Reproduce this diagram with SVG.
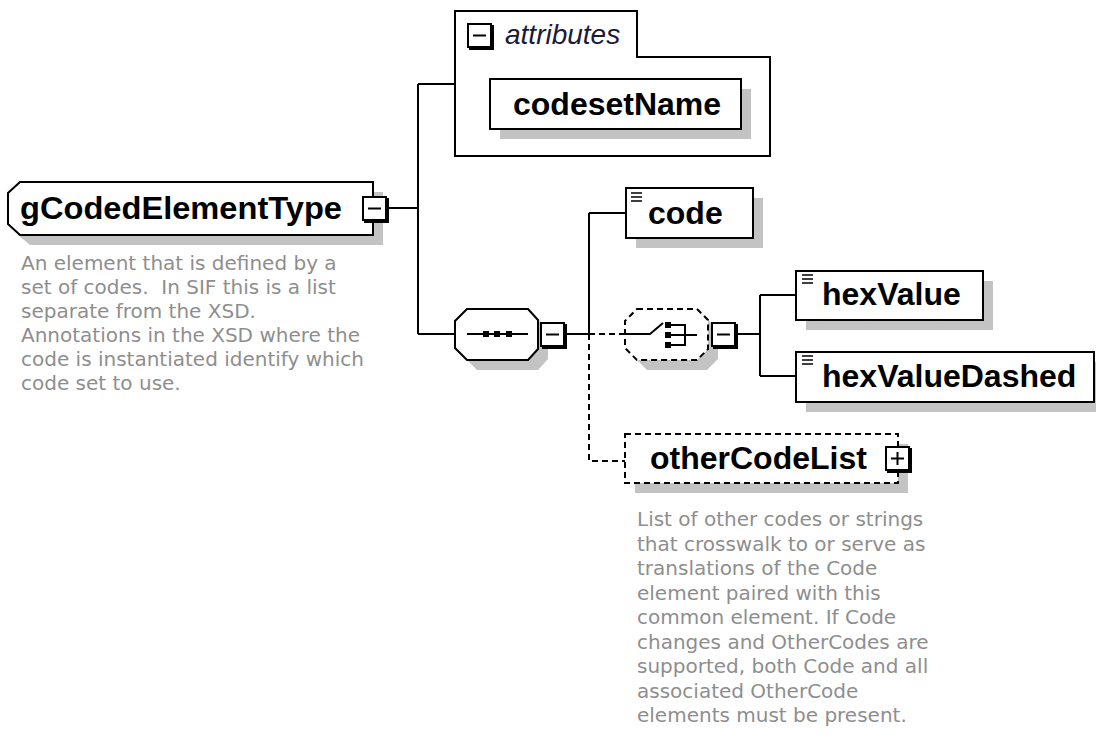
<svg xmlns="http://www.w3.org/2000/svg" xmlns:xlink="http://www.w3.org/1999/xlink" width="1096" height="742" viewBox="0 0 1096 742">
<style>
.box{fill:#fff;stroke:#000;stroke-width:2}
.dbox{fill:#fff;stroke:#000;stroke-width:2;stroke-dasharray:6 4}
.sh{fill:#c3c3c3}
.ln{fill:none;stroke:#000;stroke-width:2}
.dl{fill:none;stroke:#000;stroke-width:2;stroke-dasharray:6 4}
.name{font-family:"Liberation Sans",Arial,sans-serif;font-weight:bold;font-size:32px;fill:#000}
.desc{font-family:"DejaVu Sans",Verdana,sans-serif;font-size:20px;fill:#8e8e8e;white-space:pre}
.attr{font-family:"Liberation Sans",Arial,sans-serif;font-style:italic;font-size:28px;fill:#1a1a3a}
</style>
<defs>
<g id="btnMinus">
<rect x="1" y="1" width="23" height="23" fill="#fff" stroke="#000" stroke-width="2"/>
<path d="M25.5,2 V25.5 H2" fill="none" stroke="#000" stroke-width="3"/>
<path d="M6,12.5 H19" stroke="#000" stroke-width="2"/>
</g>
<g id="btnPlus">
<use xlink:href="#btnMinus"/>
<path d="M12.5,6 V19" stroke="#000" stroke-width="2"/>
</g>
<path id="simpleIcon" d="M0,0 H11 M0,4 H11 M0,8 H11" stroke="#000" stroke-width="1.6" fill="none"/>
</defs>

<g id="connectors">
<path class="ln" d="M389,208 H418 M418,84 V334 M418,84 H455 M418,334 H455"/>
<path class="ln" d="M567,334 H589 M589,213 V334 M589,213 H626"/>
<path class="dl" d="M589,334 H625 M589,334 V461 H625"/>
<path class="ln" d="M738,334 H760 M760,295 V376 M760,295 H796 M760,376 H796"/>
</g>

<g id="gCodedElementType">
<path class="sh" d="M30,192 H383 V245 H30 L18,235 V203 Z"/>
<path class="box" d="M20,182 H373 V235 H20 L8,224 V193 Z"/>
<text class="name" x="20" y="219" textLength="322" lengthAdjust="spacingAndGlyphs">gCodedElementType</text>
<use xlink:href="#btnMinus" x="362" y="196"/>
<g class="desc">
<text x="21" y="270">An element that is defined by a</text>
<text x="21" y="294" xml:space="preserve">set of codes.  In SIF this is a list</text>
<text x="21" y="318">separate from the XSD.</text>
<text x="21" y="342">Annotations in the XSD where the</text>
<text x="21" y="366">code is instantiated identify which</text>
<text x="21" y="390">code set to use.</text>
</g>
</g>

<g id="attributes">
<path class="box" d="M455,11 H637 V57 H770 V156 H455 Z"/>
<use xlink:href="#btnMinus" x="467" y="23"/>
<text class="attr" x="505" y="44">attributes</text>
</g>

<g id="codesetName">
<rect class="sh" x="500" y="89" width="251" height="50"/>
<rect class="box" x="490" y="79" width="251" height="50"/>
<text class="name" x="513" y="115">codesetName</text>
</g>

<g id="sequence">
<path class="sh" d="M477,319 H538 L548,330 V359 L538,370 H477 L465,358 V331 Z"/>
<path class="box" d="M467,309 H528 L538,320 V349 L528,360 H467 L455,348 V321 Z"/>
<path d="M467,334 H528" stroke="#000" stroke-width="2"/>
<rect x="483" y="331" width="6" height="6" fill="#000"/>
<rect x="494" y="331" width="6" height="6" fill="#000"/>
<rect x="506" y="331" width="6" height="6" fill="#000"/>
<use xlink:href="#btnMinus" x="540" y="322"/>
</g>

<g id="code">
<rect class="sh" x="636" y="198" width="127" height="50"/>
<rect class="box" x="626" y="188" width="127" height="50"/>
<use xlink:href="#simpleIcon" x="631" y="193"/>
<text class="name" x="648" y="224">code</text>
</g>

<g id="choice">
<path class="sh" d="M647,319 H707 L718,330 V359 L707,370 H647 L635,358 V331 Z"/>
<path class="dbox" d="M637,309 H697 L708,320 V349 L697,360 H637 L625,348 V321 Z"/>
<path d="M625,334 H650 L663,323" fill="none" stroke="#000" stroke-width="2"/>
<rect x="665" y="322" width="6" height="6" fill="#000"/>
<rect x="665" y="332" width="6" height="6" fill="#000"/>
<rect x="665" y="342" width="6" height="6" fill="#000"/>
<path d="M671,325 H685 V345 H671 M671,335 H697" fill="none" stroke="#000" stroke-width="2"/>
<use xlink:href="#btnMinus" x="711" y="322"/>
</g>

<g id="hexValue">
<rect class="sh" x="806" y="281" width="187" height="49"/>
<rect class="box" x="796" y="271" width="187" height="49"/>
<use xlink:href="#simpleIcon" x="802" y="275"/>
<text class="name" x="822" y="305">hexValue</text>
</g>

<g id="hexValueDashed">
<rect class="sh" x="806" y="362" width="298" height="50"/>
<rect class="box" x="796" y="352" width="298" height="50"/>
<use xlink:href="#simpleIcon" x="802" y="356"/>
<text class="name" x="822" y="387">hexValueDashed</text>
</g>

<g id="otherCodeList">
<rect class="sh" x="635" y="444" width="273" height="49"/>
<rect class="dbox" x="625" y="434" width="273" height="49"/>
<text class="name" x="650" y="469">otherCodeList</text>
<use xlink:href="#btnPlus" x="885" y="446"/>
<g class="desc">
<text x="637" y="526">List of other codes or strings</text>
<text x="637" y="550.5">that crosswalk to or serve as</text>
<text x="637" y="575">translations of the Code</text>
<text x="637" y="599.5">element paired with this</text>
<text x="637" y="624">common element. If Code</text>
<text x="637" y="648.5">changes and OtherCodes are</text>
<text x="637" y="673">supported, both Code and all</text>
<text x="637" y="697.5">associated OtherCode</text>
<text x="637" y="722">elements must be present.</text>
</g>
</g>
</svg>
